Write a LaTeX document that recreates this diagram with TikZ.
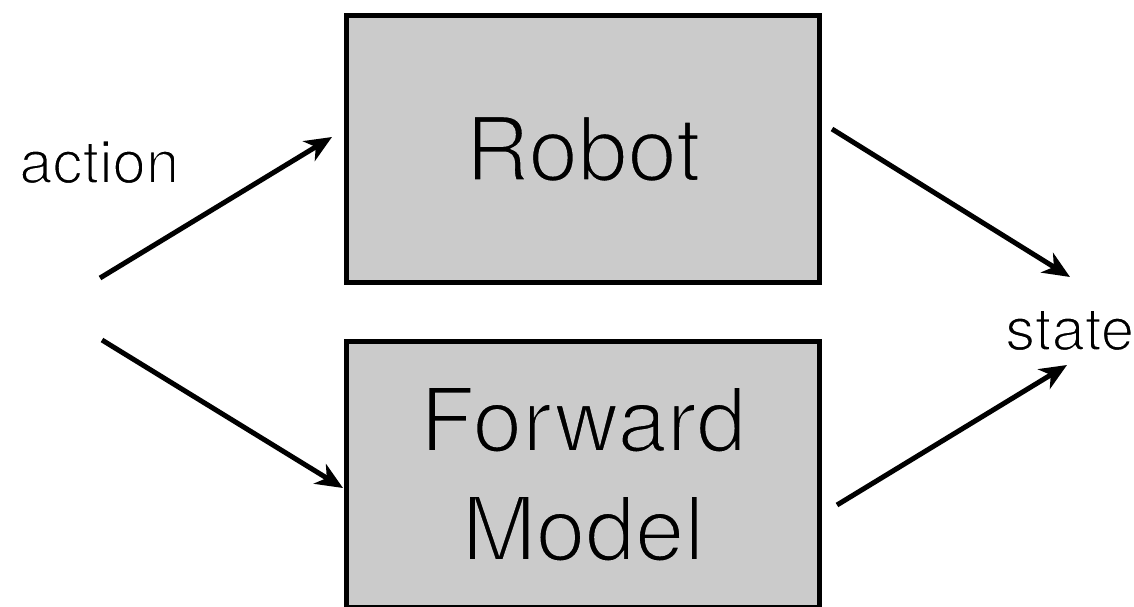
\documentclass[tikz,border=0pt]{standalone}
\usepackage{fontspec}
\setmainfont{TeX Gyre Heros}
\usetikzlibrary{arrows.meta}
\definecolor{boxgray}{RGB}{203,203,203}
% thin the glyphs by stroking their outline in the background colour
\newcommand{\thinon}[2]{\special{pdf:literal direct #1 G #2 w 2 Tr}}
\newcommand{\thinoff}{\special{pdf:literal direct 0 Tr}}
\tikzset{
  box/.style={draw=black, fill=boxgray, line width=5pt, inner sep=0pt, align=center,
    font=\fontsize{89}{109}\selectfont},
  flow/.style={line width=5pt, -{Stealth[length=27pt,width=23pt,inset=8pt]}},
  lbl/.style={inner sep=0pt, anchor=base west, font=\fontsize{60}{72}\selectfont}
}
\begin{document}
\begin{tikzpicture}[x=1pt,y=-1pt]
\useasboundingbox (0,0) rectangle (1134,606);
\begin{scope}
\clip (0,0) rectangle (1134,606);
\node[box, minimum width=473pt, minimum height=267pt] (robot) at (583,149) {\thinon{0.796}{2.6}Robot\thinoff};
\node[box, minimum width=473pt, minimum height=265.5pt] (fwd) at (583,474.25) {\thinon{0.796}{2.6}Forward\\Model\thinoff};
\end{scope}
\node[lbl] (action) at (19,183) {\thinon{1}{1.8}action\thinoff};
\node[lbl] (state) at (1005,350) {\thinon{1}{1.8}state\thinoff};
\coordinate (a1) at (100,278);
\coordinate (a2) at (102,340);
\coordinate (t1) at (332,137);
\coordinate (t2) at (343,488);
\coordinate (r1) at (832,129);
\coordinate (s1) at (1070,277);
\coordinate (f1) at (837,505);
\coordinate (s2) at (1067,365);
\draw[flow] (a1) -- (t1);
\draw[flow] (a2) -- (t2);
\draw[flow] (r1) -- (s1);
\draw[flow] (f1) -- (s2);
\end{tikzpicture}
\end{document}
